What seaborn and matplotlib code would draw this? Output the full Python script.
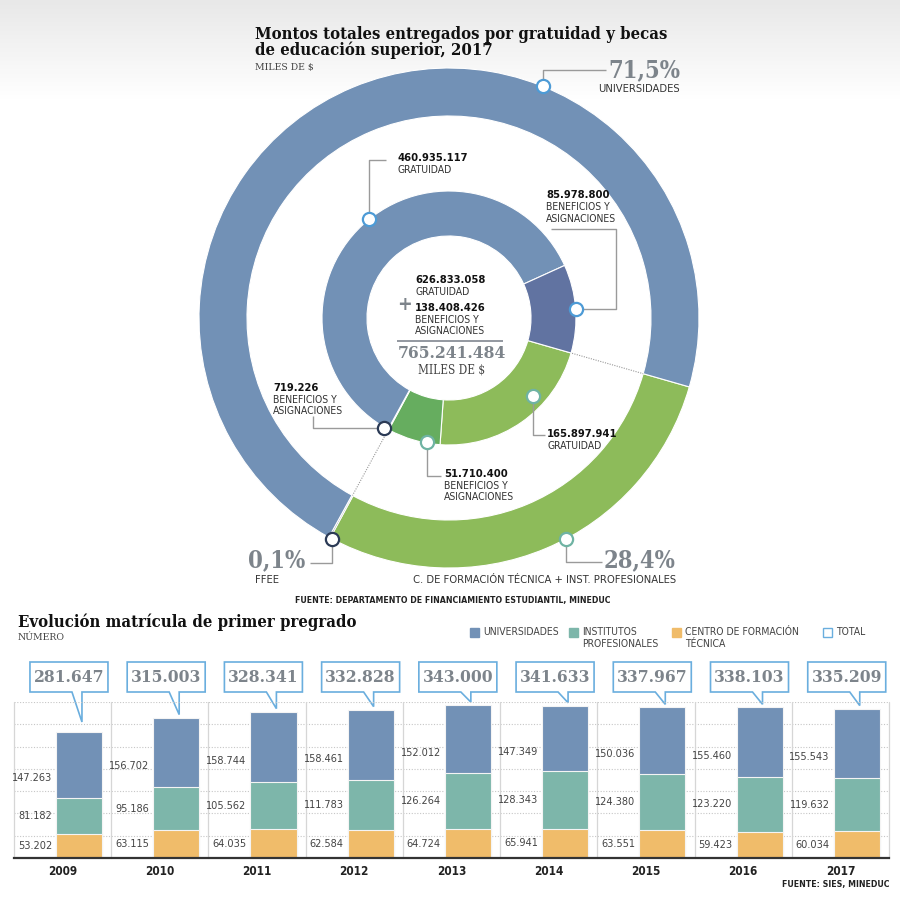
import numpy as np
import pandas as pd
import matplotlib
matplotlib.use("Agg")
import matplotlib.pyplot as plt
import seaborn as sns
from matplotlib.patches import Polygon, Rectangle
from matplotlib.colors import LinearSegmentedColormap

# ================= datos: montos 2017 (miles de $) =================
inner_names = ["CFT+IP gratuidad", "CFT+IP beneficios", "FFEE beneficios",
               "Universidades gratuidad", "Universidades beneficios"]
inner_vals = [165897941, 51710400, 719226, 460935117, 85978800]
outer_names = ["C. DE FORMACIÓN TÉCNICA + INST. PROFESIONALES", "FFEE", "UNIVERSIDADES"]
outer_vals = [217608341, 719226, 546913917]
outer_pct = ["28,4%", "0,1%", "71,5%"]
total_grat = 626833058
total_benef = 138408426

# ================= datos: matrícula de primer año =================
years = ["2009", "2010", "2011", "2012", "2013", "2014", "2015", "2016", "2017"]
univ = [147263, 156702, 158744, 158461, 152012, 147349, 150036, 155460, 155543]
ip = [81182, 95186, 105562, 111783, 126264, 128343, 124380, 123220, 119632]
cft = [53202, 63115, 64035, 62584, 64724, 65941, 63551, 59423, 60034]

# ================= estilo =================
C_U = "#7291b6"
C_U2 = "#6173a1"
C_G = "#8dbb5a"
C_G2 = "#66ad5f"
C_FF = "#2b3a55"
C_IP = "#7db6aa"
C_CFT = "#f0bc6a"
GREY_NUM = "#7d848b"
TXT = "#333333"
LEAD = "#9a9a9a"
SERIF = ["DejaVu Serif"]

sns.set_theme(style="white")
plt.rcParams["font.family"] = ["DejaVu Sans"]
plt.rcParams["font.stretch"] = "condensed"

W, H = 900, 905
CX, CY, R = 449, 318, 250   # centro y radio del anillo exterior (px)


def fmt(v):
    return f"{v:,}".replace(",", ".")


def P(px, py):
    return ((px - CX) / R, (CY - py) / R)


def polar_px(ang, r):
    a = np.deg2rad(ang)
    return (CX + R * r * np.cos(a), CY - R * r * np.sin(a))


fig = plt.figure(figsize=(W / 100, H / 100), dpi=100)
ov = fig.add_axes([0, 0, 1, 1])

# fondo degradado arriba
grad = np.linspace(0, 1, 100).reshape(-1, 1)
cm = LinearSegmentedColormap.from_list("bg", ["#e8e8e8", "#ffffff"])
x0, y0 = P(0, 0)
x1, y1 = P(W, 100)
ov.imshow(grad, cmap=cm, extent=[x0, x1, y1, y0], aspect="auto", zorder=0)


def T(px, py, s, **kw):
    kw.setdefault("va", "center")
    kw.setdefault("color", TXT)
    ov.text(*P(px, py), s, **kw)


def L(pts, **kw):
    xy = np.array([P(*p) for p in pts])
    ov.plot(xy[:, 0], xy[:, 1], color=kw.pop("color", LEAD), lw=kw.pop("lw", 1), zorder=3,
            solid_capstyle="butt", **kw)


# ================= anillos =================
START = -16
wo, _ = ov.pie(outer_vals, radius=1, startangle=START, counterclock=False,
               colors=[C_G, C_FF, C_U],
               wedgeprops=dict(width=0.192, edgecolor="white", linewidth=0.8))
wi, _ = ov.pie(inner_vals, radius=0.508, startangle=START, counterclock=False,
               colors=[C_G, C_G2, C_FF, C_U, C_U2],
               wedgeprops=dict(width=0.18, edgecolor="white", linewidth=0.8))

ov.set_xlim(P(0, 0)[0], P(W, 0)[0])
ov.set_ylim(P(0, H)[1], P(0, 0)[1])
ov.set_aspect("auto")
ov.axis("off")

# lineas punteadas que unen ambos anillos
for ang in [wo[0].theta2, 0.5 * (wo[1].theta1 + wo[1].theta2)]:
    a = np.deg2rad(ang)
    ov.plot([0.512 * np.cos(a), 0.808 * np.cos(a)], [0.512 * np.sin(a), 0.808 * np.sin(a)],
            color="#999999", lw=0.8, ls=(0, (1, 1.2)), zorder=2)

# marcadores + guias
EDGE_B = "#4d9bd6"
EDGE_G = "#6fb3a3"
markers = [
    # angulo, radio, borde, recorrido de la guia
    (68, 1.0, EDGE_B, lambda m: [m, (m[0], 70), (606, 70)]),
    (129, 0.508, EDGE_B, lambda m: [m, (m[0], 160), (386, 160)]),
    (4, 0.508, EDGE_B, lambda m: [m, (616, m[1]), (616, 229), (551, 229)]),
    (-43, 0.46, EDGE_G, lambda m: [m, (m[0], 435), (545, 435)]),
    (-100, 0.505, EDGE_G, lambda m: [m, (m[0], 476), (441, 476)]),
    (-120.5, 0.51, C_FF, lambda m: [m, (313, m[1]), (313, 416)]),
    (-118, 1.0, C_FF, lambda m: [m, (m[0], 563), (310, 563)]),
    (-62, 1.0, EDGE_G, lambda m: [m, (m[0], 562), (602, 562)]),
]
for ang, r, ec, path in markers:
    m = polar_px(ang, r)
    L(path(m))
    ov.plot(*P(*m), marker="o", ms=9.5, mfc="white", mec=ec, mew=1.6, zorder=5)

# textos del grafico superior
T(255, 26, "Montos totales entregados por gratuidad y becas\nde educación superior, 2017",
  va="top", family=SERIF, fontsize=12, weight="bold", color="#111111", linespacing=0.92)
T(255, 68, "MILES DE $", family=SERIF, fontsize=7.5, color="#444444")

T(680, 70, outer_pct[2], ha="right", family=SERIF, weight="bold", fontsize=17, color=GREY_NUM)
T(680, 89, outer_names[2], ha="right", fontsize=8)
T(305, 560, outer_pct[1], ha="right", family=SERIF, weight="bold", fontsize=17, color=GREY_NUM)
T(255, 580, outer_names[1], fontsize=8)
T(604, 560, outer_pct[0], ha="left", family=SERIF, weight="bold", fontsize=17, color=GREY_NUM)
T(676, 580, outer_names[0], ha="right", fontsize=8)


def block(x, y, num, lines):
    T(x, y, fmt(num), weight="bold", fontsize=8, color="#111111")
    for k, s in enumerate(lines):
        T(x, y + 12 + 11.5 * k, s, fontsize=7.5)


block(397, 158, inner_vals[3], ["GRATUIDAD"])
block(546, 195, inner_vals[4], ["BENEFICIOS Y", "ASIGNACIONES"])
block(547, 434, inner_vals[0], ["GRATUIDAD"])
block(444, 474, inner_vals[1], ["BENEFICIOS Y", "ASIGNACIONES"])
block(273, 388, inner_vals[2], ["BENEFICIOS Y", "ASIGNACIONES"])

# centro
block(415, 280, total_grat, ["GRATUIDAD"])
block(415, 308, total_benef, ["BENEFICIOS Y", "ASIGNACIONES"])
T(404, 305, "+", ha="center", weight="bold", fontsize=14, color=GREY_NUM)
L([(397, 341), (503, 341)], color="#8a9099", lw=1.3)
T(452, 353, fmt(sum(inner_vals)), ha="center", family=SERIF, weight="bold", fontsize=12.5, color=GREY_NUM)
T(452, 370, "MILES DE $", ha="center", family=SERIF, fontsize=8.5, color="#444444")

T(295, 601, "FUENTE: DEPARTAMENTO DE FINANCIAMIENTO ESTUDIANTIL, MINEDUC",
  fontsize=6.3, weight="bold", color="#222222")

# ================= grafico de barras =================
T(18, 622, "Evolución matrícula de primer pregrado", family=SERIF, weight="bold",
  fontsize=12, color="#111111")
T(18, 637, "NÚMERO", family=SERIF, fontsize=7.5, color="#444444")

legend = [(470, C_U, C_U, ["UNIVERSIDADES"]),
          (569, C_IP, C_IP, ["INSTITUTOS", "PROFESIONALES"]),
          (672, C_CFT, C_CFT, ["CENTRO DE FORMACIÓN", "TÉCNICA"]),
          (823, "white", "#6aaede", ["TOTAL"])]
for lx, fc, ec, lines in legend:
    s = 9 / R
    ov.add_patch(Rectangle(P(lx, 637), s, s, facecolor=fc, edgecolor=ec, lw=1, zorder=4))
    for k, t in enumerate(lines):
        T(lx + 13, 632 + 11.5 * k, t, fontsize=7.5, color="#444444")

df = pd.DataFrame({"year": years, "univ": univ, "ip": ip, "cft": cft})
df["ip_cft"] = df["ip"] + df["cft"]
df["total"] = df["univ"] + df["ip_cft"]

BAR_W = 0.475
axb = fig.add_axes([14 / W, 1 - 858 / H, 875 / W, 156 / H])
axb.patch.set_alpha(0)
for col, color in [("total", C_U), ("ip_cft", C_IP), ("cft", C_CFT)]:
    sns.barplot(data=df, x="year", y=col, color=color, saturation=1, width=BAR_W,
                edgecolor="#f4f4f4", linewidth=0.8, ax=axb, zorder=2)

axb.set_xlim(-0.669, 8.331)
axb.set_ylim(0, 350000)
for v in range(50000, 350001, 50000):
    axb.axhline(v, color="#c6c6c6", lw=0.8, ls=(0, (1, 1.5)), zorder=0)
for k in range(10):
    axb.axvline(k - 0.669, color="#d6d6d6", lw=0.9, zorder=0, clip_on=False)
sns.despine(ax=axb, left=True, top=True, right=True)
axb.spines["bottom"].set_color("#333333")
axb.spines["bottom"].set_linewidth(1.6)
axb.set_xticks(np.arange(len(years)) - 0.169, years)
axb.set_yticks([])
axb.set_xlabel("")
axb.set_ylabel("")
axb.tick_params(axis="x", length=0, pad=5, labelsize=8.5, colors="#222222")
for lab in axb.get_xticklabels():
    lab.set_fontweight("bold")

for i, row in df.iterrows():
    xl = i - BAR_W / 2 - 0.04
    axb.text(xl, row["ip_cft"] + 0.3 * row["univ"], fmt(row["univ"]), ha="right", va="center",
             fontsize=7.8, color="#444444")
    axb.text(xl, row["cft"] + 0.5 * row["ip"], fmt(row["ip"]), ha="right", va="center",
             fontsize=7.8, color="#444444")
    axb.text(xl, 0.5 * row["cft"], fmt(row["cft"]), ha="right", va="center",
             fontsize=7.8, color="#444444")

    # caja con total y "cola"
    dx, dy = axb.transData.transform((i + 0.03, row["total"]))
    tx, ty = dx, H - dy
    ty = min(ty - 3, 722)
    left = tx - 52
    pts = [(left, 692), (tx - 10, 692), (tx, ty), (tx, 692), (left + 78, 692),
           (left + 78, 662), (left, 662)]
    ov.add_patch(Polygon([P(*p) for p in pts], closed=True, facecolor="white",
                         edgecolor="#6aaede", lw=1.2, zorder=4))
    T(left + 39, 677, fmt(row["total"]), ha="center", family=SERIF, weight="bold",
      fontsize=12.5, color=GREY_NUM, zorder=5)

T(889, 884, "FUENTE: SIES, MINEDUC", ha="right", fontsize=6.3, weight="bold", color="#222222")

fig.savefig("out.png", dpi=100, facecolor="white")
